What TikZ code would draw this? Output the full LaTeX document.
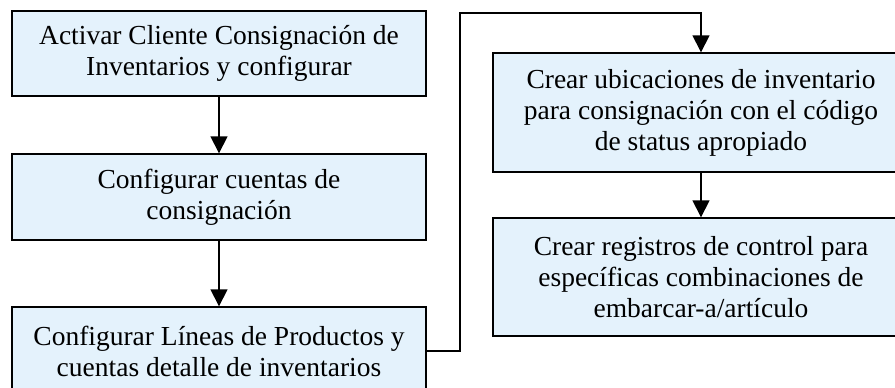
\documentclass[tikz,border=0pt]{standalone}
\usepackage{fontspec}
\setmainfont{Liberation Serif}
\usetikzlibrary{arrows.meta, positioning}
\definecolor{cajaazul}{RGB}{228,242,252}
\tikzset{
  paso/.style={draw, line width=1.4pt, fill=cajaazul, align=center, inner sep=0pt,
    font=\fontsize{27.5}{31}\selectfont, minimum width=414pt},
  flecha/.style={line width=1.6pt, -{Triangle[width=17pt,length=17pt]}}
}

\begin{document}
\begin{tikzpicture}[x=1pt, y=-1pt]
  \useasboundingbox (0,0) rectangle (895,388);

  % columna izquierda
  \node[paso, minimum height=85pt] (A) at (219,53.5) {Activar Cliente Consignación de\\Inventarios y configurar};
  \node[paso, minimum height=86pt] (B) at (219,197) {Configurar cuentas de\\consignación};
  \node[paso, minimum height=88pt] (C) at (219,351) {Configurar Líneas de Productos y\\cuentas detalle de inventarios};

  % columna derecha
  \node[paso, minimum width=416pt, minimum height=119pt] (D) at (701,112.5) {Crear ubicaciones de inventario\\para consignación con el código\\de status apropiado};
  \node[paso, minimum width=416pt, minimum height=118pt] (E) at (701,277) {Crear registros de control para\\específicas combinaciones de\\embarcar-a/artículo};

  \coordinate (codo) at (460,13);

  \draw[flecha] (A) -- (B);
  \draw[flecha] (B) -- (C);
  \draw[flecha] (C.east) -| (codo) -| (D.north);
  \draw[flecha] (D) -- (E);
\end{tikzpicture}
\end{document}
